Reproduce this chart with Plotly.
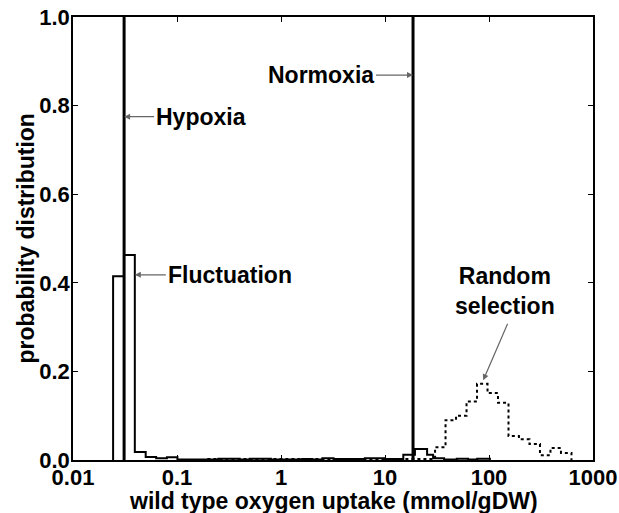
import plotly.graph_objects as go
import math

# ---- data ----
# Fluctuation histogram (solid): bin edges (mmol/gDW) and probabilities
FLUCT_EDGES = [0.0243, 0.0309, 0.0393, 0.050, 0.063, 0.080, 0.101, 0.25, 0.40, 0.50,
               0.80, 1.6, 2.0, 2.5, 3.2, 6.4, 10, 15, 19.4, 25.4, 29, 37, 49, 63, 77, 102]
FLUCT_VALS = [0.415, 0.463, 0.018, 0.007, 0.004, 0.006, 0.001, 0.003, 0.001, 0.003,
              0.001, 0.002, 0.001, 0.004, 0.002, 0.004, 0.002, 0.012, 0.025, 0.012,
              0.004, 0.001, 0.003, 0.001, 0.003]

# Random selection histogram (dotted)
RAND_EDGES = [0.2, 30.3, 38.2, 48.2, 60.8, 76.7, 96.8, 122, 154, 194, 245, 309, 390, 492, 621]
RAND_VALS = [0.002, 0.029, 0.090, 0.100, 0.132, 0.172, 0.151, 0.129, 0.054, 0.047,
             0.036, 0.011, 0.027, 0.016]

HYPOXIA_X = 0.031
NORMOXIA_X = 18.6

X_TICKS = [0.01, 0.1, 1, 10, 100, 1000]
X_TICK_LABELS = ["0.01", "0.1", "1", "10", "100", "1000"]
Y_TICKS = [0.0, 0.2, 0.4, 0.6, 0.8, 1.0]


def step_xy(edges, vals):
    xs = [edges[0]] + edges[:-1] + [edges[-1]]
    ys = [0] + list(vals) + [0]
    return xs, ys


FONT = "Liberation Sans, Arial, Helvetica, sans-serif"

fig = go.Figure()

fx, fy = step_xy(FLUCT_EDGES, FLUCT_VALS)
fig.add_trace(go.Scatter(x=fx, y=fy, mode="lines", line=dict(color="black", width=2, shape="hv"),
                         showlegend=False, hoverinfo="skip"))

rx, ry = step_xy(RAND_EDGES, RAND_VALS)
fig.add_trace(go.Scatter(x=rx, y=ry, mode="lines",
                         line=dict(color="black", width=2, shape="hv", dash="dot"),
                         showlegend=False, hoverinfo="skip"))

for xv in (HYPOXIA_X, NORMOXIA_X):
    fig.add_trace(go.Scatter(x=[xv, xv], y=[0, 1], mode="lines",
                             line=dict(color="black", width=3),
                             showlegend=False, hoverinfo="skip"))

ann_font = dict(family=FONT, size=23, color="black", weight="bold")
arrow = dict(showarrow=True, arrowhead=2, arrowsize=1, arrowwidth=1.2, arrowcolor="#666")

fig.add_annotation(x=math.log10(HYPOXIA_X), y=0.775, text="Hypoxia", xanchor="left",
                   ax=30, ay=0, font=ann_font, **arrow)
fig.add_annotation(x=math.log10(FLUCT_EDGES[2]), y=0.418, text="Fluctuation", xanchor="left",
                   ax=31, ay=0, font=ann_font, **arrow)
fig.add_annotation(x=math.log10(NORMOXIA_X), y=0.869, text="Normoxia", xanchor="right",
                   ax=-37, ay=0, font=ann_font, **arrow)
fig.add_annotation(x=math.log10(88), y=0.18, text="Random<br>selection", showarrow=False,
                   xshift=22, yshift=89, font=ann_font, align="center")
fig.add_annotation(x=math.log10(88), y=0.18, text="", ax=25, ay=-58,
                   font=ann_font, **arrow)

# axis titles as annotations (paper coords)
fig.add_annotation(xref="paper", yref="paper", x=0.5, y=-0.092, yanchor="middle",
                   text="wild type oxygen uptake (mmol/gDW)", showarrow=False, font=ann_font)
fig.add_annotation(xref="paper", yref="paper", x=-0.0923, y=0.5, xanchor="center",
                   yanchor="middle", textangle=-90,
                   text="probability distribution", showarrow=False, font=ann_font)

fig.update_layout(
    width=619, height=513,
    margin=dict(l=73, r=26, t=17, b=53, autoexpand=False),
    paper_bgcolor="white", plot_bgcolor="white",
    font=dict(family=FONT, size=21, color="black", weight="bold"),
    showlegend=False,
)
fig.update_xaxes(type="log", range=[-2, 3], tickvals=X_TICKS, ticktext=X_TICK_LABELS,
                 showgrid=False, zeroline=False, showline=True, linecolor="black", linewidth=1.5,
                 mirror="ticks", ticks="inside", ticklen=5, tickcolor="black", automargin=False,
                 ticklabelstandoff=-3,
                 tickfont=dict(family=FONT, size=22, weight="bold"))
fig.update_yaxes(range=[0, 1], tickvals=Y_TICKS, tickformat=".1f",
                 showgrid=False, zeroline=False, showline=True, linecolor="black", linewidth=1.5,
                 mirror="ticks", ticks="inside", ticklen=5, tickcolor="black", automargin=False,
                 ticklabelstandoff=-3,
                 tickfont=dict(family=FONT, size=22, weight="bold"))

# remove the page's default 8px body margin so the figure sits at the window's corner
fig.write_html("out.html", config={"displayModeBar": False},
               post_script="document.body.style.margin='0px'; document.body.style.overflow='hidden';")
